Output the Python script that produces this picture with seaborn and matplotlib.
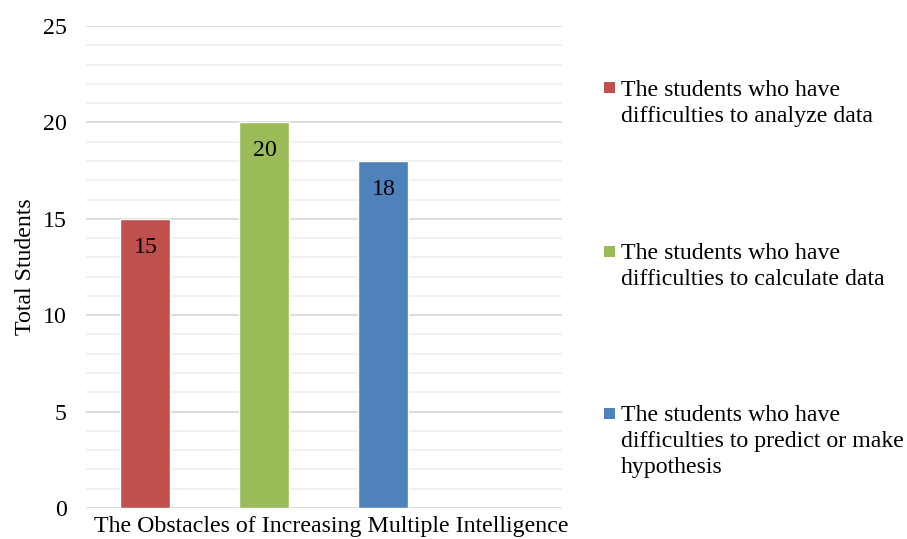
import pandas as pd
import matplotlib.pyplot as plt
import matplotlib.patches as mpatches
import matplotlib.transforms as mtransforms
import seaborn as sns

# --- Data ---
category = ["The Obstacles of Increasing Multiple Intelligence"]
series = [
    "The students who have\ndifficulties to analyze data",
    "The students who have\ndifficulties to calculate data",
    "The students who have\ndifficulties to predict or make\nhypothesis",
]
values = [15, 20, 18]
empty_series = "(empty)"  # fourth slot left blank in the original chart
colors = ["#C0504D", "#9BBB59", "#4F81BD", "#FFFFFF"]

df = pd.DataFrame({
    "Category": category * len(series),
    "Series": series,
    "Students": values,
})

sns.set_style("white")
plt.rcParams["font.family"] = ["Liberation Serif", "DejaVu Serif"]
plt.rcParams["text.color"] = "black"
plt.rcParams["xtick.color"] = "black"
plt.rcParams["ytick.color"] = "black"
plt.rcParams["axes.labelcolor"] = "black"
FS = 17.2

fig = plt.figure(figsize=(9.07, 5.39), dpi=100)
ax = fig.add_axes([0.0948, 0.0575, 0.5248, 0.8943])

hue_order = series + [empty_series]
sns.barplot(data=df, x="Category", y="Students", hue="Series",
            hue_order=hue_order, palette=dict(zip(hue_order, colors)),
            width=0.8, gap=0.58, saturation=1, legend=False, ax=ax)

# data labels inside the bar tops
for cont in ax.containers:
    ax.bar_label(cont, fmt="%d", padding=-28, fontsize=FS, color="black")

# --- Axes styling ---
ax.set_ylim(0, 25)
ax.set_xlim(-0.4, 0.4)
ax.set_yticks(range(0, 26, 5))
ax.set_yticks(range(0, 26, 1), minor=True)
ax.grid(axis="y", which="major", color="#d9d9d9", linewidth=1.3)
ax.grid(axis="y", which="minor", color="#f0f0f0", linewidth=1.3)
ax.set_axisbelow(True)
for s in ax.spines.values():
    s.set_visible(False)
ax.tick_params(axis="y", which="both", length=0, pad=14, labelsize=FS)
ax.tick_params(axis="x", length=0, pad=6, labelsize=FS)
shift = mtransforms.ScaledTranslation(7 / 100, 0, fig.dpi_scale_trans)
for lbl in ax.get_xticklabels():
    lbl.set_transform(lbl.get_transform() + shift)
ax.set_xlabel("")
ax.set_ylabel("Total Students", fontsize=FS)
ax.yaxis.set_label_coords(-0.105, 0.5)

# --- Legend (spread out on the right, marker beside the first line) ---
W, H = 907, 539
marker_y = [87.5, 251, 413]
for lab, col, my in zip(series, colors, marker_y):
    fig.patches.append(mpatches.Rectangle((604 / W, 1 - (my + 5.5) / H), 11 / W, 11 / H,
                                          transform=fig.transFigure, facecolor=col,
                                          edgecolor="none"))
    fig.text(621 / W, 1 - (my - 8) / H, lab, fontsize=FS, va="top",
             ha="left", linespacing=1.32)

plt.savefig("out.png", dpi=100)
